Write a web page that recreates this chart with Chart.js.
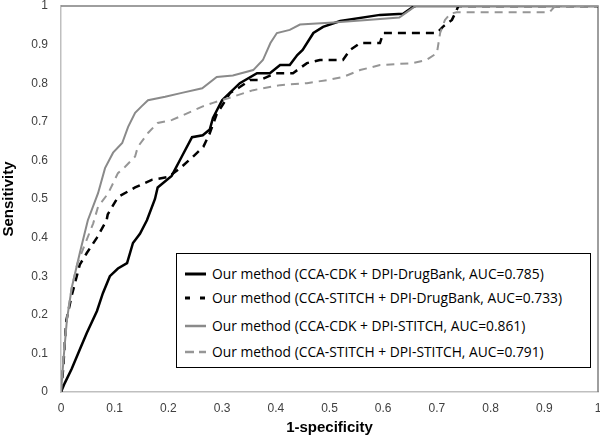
<!DOCTYPE html>
<html>
<head>
<meta charset="utf-8">
<script src="https://cdn.jsdelivr.net/npm/chart.js@4"></script>
<style>
  body { margin: 0; background: #fff; }
  #wrap { position: relative; width: 600px; height: 438px; }
  #legend {
    position: absolute; left: 176px; top: 253px; width: 413px; height: 113px;
    border: 1.5px solid #000; background: #fff;
    font-family: "Open Sans", sans-serif; font-size: 13.8px; color: #000;
  }
  .row { position: absolute; left: 0; height: 20px; line-height: 20px; white-space: nowrap; }
  .row svg { position: absolute; left: 8px; top: 8px; }
  .row span { position: absolute; left: 35px; top: 0; }
</style>
</head>
<body>
<div id="wrap">
  <canvas id="rocChart" width="600" height="438"></canvas>
  <div id="legend"></div>
</div>
<script>
// ROC curves (x = 1-specificity, y = sensitivity)
const cdkDrugBankX = [0, 0.007, 0.02, 0.035, 0.048, 0.067, 0.078, 0.091, 0.106, 0.123, 0.134, 0.147, 0.16, 0.175, 0.18, 0.206, 0.225, 0.244, 0.264, 0.277, 0.283, 0.30, 0.333, 0.365, 0.389, 0.408, 0.426, 0.44, 0.45, 0.47, 0.488, 0.52, 0.594, 0.637, 0.655, 0.66, 1];
const cdkDrugBankY = [0, 0.023, 0.06, 0.11, 0.153, 0.21, 0.256, 0.30, 0.32, 0.334, 0.386, 0.41, 0.445, 0.50, 0.53, 0.56, 0.61, 0.66, 0.665, 0.68, 0.71, 0.756, 0.80, 0.826, 0.826, 0.847, 0.847, 0.873, 0.886, 0.93, 0.946, 0.961, 0.977, 0.98, 0.997, 1, 1];

const stitchDrugBankX = [0, 0.004, 0.007, 0.01, 0.02, 0.035, 0.048, 0.067, 0.085, 0.087, 0.106, 0.138, 0.17, 0.2, 0.222, 0.246, 0.265, 0.277, 0.29, 0.315, 0.333, 0.352, 0.37, 0.40, 0.432, 0.458, 0.482, 0.525, 0.538, 0.557, 0.594, 0.60, 0.70, 0.711, 0.728, 0.737, 0.74, 1];
const stitchDrugBankY = [0, 0.06, 0.127, 0.186, 0.25, 0.33, 0.36, 0.40, 0.445, 0.46, 0.505, 0.53, 0.55, 0.557, 0.58, 0.61, 0.635, 0.67, 0.72, 0.775, 0.79, 0.808, 0.808, 0.826, 0.826, 0.852, 0.86, 0.86, 0.886, 0.904, 0.904, 0.93, 0.93, 0.946, 0.964, 0.99, 1, 1];

const cdkStitchX = [0, 0.005, 0.011, 0.02, 0.035, 0.05, 0.069, 0.082, 0.097, 0.114, 0.125, 0.138, 0.15, 0.162, 0.194, 0.225, 0.263, 0.29, 0.32, 0.358, 0.376, 0.39, 0.402, 0.426, 0.445, 0.507, 0.57, 0.63, 0.65, 0.66, 1];
const cdkStitchY = [0, 0.09, 0.187, 0.27, 0.36, 0.445, 0.515, 0.58, 0.62, 0.645, 0.687, 0.723, 0.74, 0.756, 0.765, 0.775, 0.787, 0.816, 0.82, 0.834, 0.86, 0.904, 0.93, 0.938, 0.952, 0.957, 0.964, 0.97, 0.99, 1, 1];

const stitchStitchX = [0, 0.006, 0.012, 0.02, 0.03, 0.041, 0.06, 0.069, 0.088, 0.106, 0.119, 0.138, 0.143, 0.162, 0.18, 0.207, 0.237, 0.264, 0.283, 0.32, 0.358, 0.408, 0.458, 0.495, 0.525, 0.557, 0.594, 0.655, 0.68, 0.70, 0.706, 0.715, 0.725, 0.737, 0.91, 0.92, 1];
const stitchStitchY = [0, 0.12, 0.2, 0.27, 0.33, 0.37, 0.437, 0.48, 0.515, 0.567, 0.583, 0.61, 0.635, 0.671, 0.697, 0.705, 0.723, 0.74, 0.749, 0.765, 0.782, 0.795, 0.80, 0.808, 0.816, 0.834, 0.847, 0.852, 0.86, 0.878, 0.93, 0.964, 0.98, 0.984, 0.984, 1, 1];

const seriesLabels = [
  "Our method (CCA-CDK + DPI-DrugBank, AUC=0.785)",
  "Our method (CCA-STITCH + DPI-DrugBank, AUC=0.733)",
  "Our method (CCA-CDK + DPI-STITCH, AUC=0.861)",
  "Our method (CCA-STITCH + DPI-STITCH, AUC=0.791)"
];

function toPoints(xs, ys) {
  return xs.map((x, i) => ({ x: x, y: ys[i] }));
}

const seriesStyles = [
  { color: "#000000", width: 2.5, dash: [] },
  { color: "#000000", width: 2.5, dash: [8, 6] },
  { color: "#8a8a8a", width: 2, dash: [] },
  { color: "#969696", width: 2, dash: [8, 6] }
];
const seriesData = [
  toPoints(cdkDrugBankX, cdkDrugBankY),
  toPoints(stitchDrugBankX, stitchDrugBankY),
  toPoints(cdkStitchX, cdkStitchY),
  toPoints(stitchStitchX, stitchStitchY)
];

// frame on top and right side of the plot
const plotFrame = {
  id: "plotFrame",
  beforeDatasetsDraw(chart) {
    const a = chart.chartArea, c = chart.ctx;
    c.save();
    c.strokeStyle = "#7f7f7f";
    c.lineWidth = 1.5;
    c.beginPath();
    c.moveTo(a.left, a.top);
    c.lineTo(a.right, a.top);
    c.lineTo(a.right, a.bottom);
    c.stroke();
    c.restore();
  }
};

const tickFont = { family: "'Liberation Sans', Arial, sans-serif", size: 12 };
const titleFont = { family: "'Liberation Sans', Arial, sans-serif", size: 15, weight: "bold" };
const fmt = (v) => String(Math.round(v * 10) / 10);

new Chart(document.getElementById("rocChart"), {
  type: "line",
  data: {
    datasets: seriesData.map((d, i) => ({
      label: seriesLabels[i],
      data: d,
      borderColor: seriesStyles[i].color,
      borderWidth: seriesStyles[i].width,
      borderDash: seriesStyles[i].dash,
      pointRadius: 0,
      tension: 0,
      fill: false
    })).reverse()
  },
  options: {
    responsive: false,
    animation: false,
    layout: { padding: { top: 6, right: 2, left: 0, bottom: 0 } },
    plugins: { legend: { display: false }, tooltip: { enabled: false } },
    scales: {
      x: {
        type: "linear", min: 0, max: 1,
        afterFit(s) { s.height = 46; s.paddingLeft = 0; s.paddingRight = 0; },
        ticks: { stepSize: 0.1, color: "#404040", font: tickFont, padding: 9, maxRotation: 0, callback: fmt },
        grid: { display: false, drawTicks: false },
        border: { color: "#bfbfbf", width: 1.5 },
        title: { display: true, text: "1-specificity", color: "#000", font: titleFont, padding: { top: 0, bottom: 1 } }
      },
      y: {
        min: 0, max: 1,
        afterFit(s) { s.width = 61; s.paddingTop = 0; s.paddingBottom = 0; },
        ticks: { stepSize: 0.1, color: "#404040", font: tickFont, padding: 13, callback: fmt },
        grid: { display: false, drawTicks: false },
        border: { color: "#bfbfbf", width: 1.5 },
        title: { display: true, text: "Sensitivity", color: "#000", font: titleFont, padding: { top: 0, bottom: 0 } }
      }
    }
  },
  plugins: [plotFrame]
});

// legend box inside the plot
const rowTops = [10, 34, 62, 88];
const legend = document.getElementById("legend");
seriesLabels.forEach((label, i) => {
  const st = seriesStyles[i];
  const row = document.createElement("div");
  row.className = "row";
  row.style.top = rowTops[i] + "px";
  const dash = i === 1 ? "5 10" : (i === 3 ? "9 5" : "none");
  row.innerHTML =
    '<svg width="22" height="4"><line x1="0" y1="2" x2="21" y2="2" stroke="' + st.color +
    '" stroke-width="' + (st.width + 0.5) + '" stroke-dasharray="' + dash + '"/></svg>' +
    "<span>" + label + "</span>";
  legend.appendChild(row);
});
</script>
</body>
</html>
